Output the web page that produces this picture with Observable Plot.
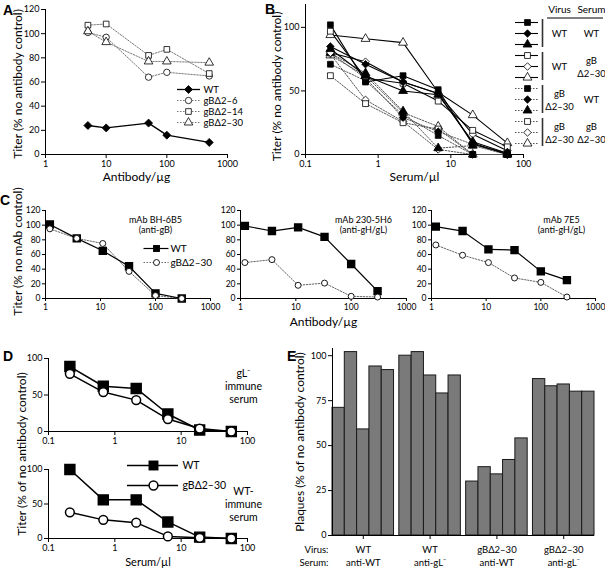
<!DOCTYPE html>
<html>
<head>
<meta charset="utf-8">
<script src="https://cdn.jsdelivr.net/npm/d3@7"></script>
<script src="https://cdn.jsdelivr.net/npm/@observablehq/plot@0.6"></script>
<style>
  html, body { margin: 0; padding: 0; background: #fff; }
  #fig { position: relative; width: 605px; height: 568px; overflow: hidden; background: #fff; }
  #fig svg { position: absolute; }
  .letter { position: absolute; font: bold 14px "Liberation Sans", Arial, sans-serif; line-height: 1; }
</style>
</head>
<body>
<div id="fig"></div>
<script>
// ---------- Panel A ----------
const aDose = [5, 10, 50, 100, 500];
const aSeries = ["WT", "gBΔ2–6", "gBΔ2–14", "gBΔ2–30"];
const aWT = [24, 22, 26, 16, 10];
const aD2_6 = [101, 97, 64, 68, 65];
const aD2_14 = [107, 108, 82, 87, 67];
const aD2_30 = [102, 93, 77, 77, 76];
const aTicksX = [1, 10, 100, 1000];
const aTicksY = [0, 20, 40, 60, 80, 100, 120];

// ---------- Panel B ----------
const bSerum = [0.22, 0.67, 2.2, 6.7, 20, 60];
const bVirusGroups = ["WT", "WT", "gB\nΔ2–30", "gB\nΔ2–30"];
const bSerumGroups = ["WT", "gB\nΔ2–30", "WT", "gB\nΔ2–30"];
const bTiters = [
  [102, 57, 62, 51, 8, 1],
  [85, 71, 57, 48, 9, 0],
  [83, 62, 50, 47, 10, 1],
  [97, 60, 56, 42, 19, 6],
  [80, 73, 57, 48, 16, 3],
  [94, 91, 88, 49, 31, 9],
  [71, 58, 31, 15, 0, 0],
  [80, 60, 29, 18, 8, 0],
  [80, 64, 34, 5, 7, 0],
  [62, 40, 25, 20, 0, 0],
  [79, 43, 26, 4, 0, 0],
  [78, 62, 33, 22, 0, 0]
];
const bTicksX = [0.1, 1, 10, 100];
const bTicksY = [0, 50, 100];

// ---------- Panel C ----------
const cDose = [1.2, 3.7, 11, 33, 100, 300];
const cAntibodies = ["mAb BH-6B5\n(anti-gB)", "mAb 230-5H6\n(anti-gH/gL)", "mAb 7E5\n(anti-gH/gL)"];
const cSeries = ["WT", "gBΔ2–30"];
const cWT = [[101, 82, 65, 44, 7, 0], [99, 92, 97, 84, 47, 10], [98, 92, 67, 66, 37, 25]];
const cGB = [[95, 82, 75, 37, 4, 0], [49, 53, 18, 21, 3, 2], [73, 59, 49, 28, 22, 2]];
const cTicksX = [1, 10, 100, 1000];
const cTicksY = [0, 20, 40, 60, 80, 100, 120];

// ---------- Panel D ----------
const dSerum = [0.21, 0.67, 2.1, 6.3, 19, 57];
const dSeries = ["WT", "gBΔ2–30"];
const dImmune = ["gL⁻\nimmune\nserum", "WT-\nimmune\nserum"];
const dWT = [[89, 62, 59, 24, 2, 0], [100, 56, 56, 24, 2, 0]];
const dGB = [[79, 54, 43, 17, 4, 0], [38, 27, 23, 3, 1, 0]];
const dTicksX = [0.1, 1, 10, 100];
const dTicksY = [0, 50, 100];

// ---------- Panel E ----------
const eVirus = ["WT", "WT", "gBΔ2–30", "gBΔ2–30"];
const eSerum = ["anti-WT", "anti-gL⁻", "anti-WT", "anti-gL⁻"];
const ePlaques = [[71, 102, 59, 94, 92], [100, 102, 89, 79, 89], [30, 38, 34, 42, 54], [87, 83, 84, 80, 80]];
const eTicksY = [0, 25, 50, 75, 100];

// ---------- helpers ----------
const fig = document.getElementById("fig");
const FONT = "Lato, 'Liberation Sans', sans-serif";
function mount(svg, left, top) {
  svg.style.position = "absolute";
  svg.style.left = left + "px";
  svg.style.top = top + "px";
  fig.appendChild(svg);
  return svg;
}
function letter(t, left, top) {
  const d = document.createElement("div");
  d.className = "letter";
  d.textContent = t;
  d.style.left = left + "px";
  d.style.top = top + "px";
  fig.appendChild(d);
}
const baseStyle = (fs) => ({fontFamily: FONT, fontSize: fs + "px", background: "none", overflow: "visible", color: "#000"});
const rows = (xs, ys) => xs.map((x, i) => ({x, y: ys[i]}));
const lineMark = (xs, ys, o) => Plot.line(rows(xs, ys), {x: "x", y: "y", ...o});
const dotMark = (xs, ys, o) => Plot.dot(rows(xs, ys), {x: "x", y: "y", ...o});
const yTitle = (t, dx, dy = 0, fs = 12) => Plot.text([t], {frameAnchor: "left", rotate: -90, dx, dy, textAnchor: "middle", lineAnchor: "middle", fontSize: fs});
const xTitle = (t, dy, fs = 12) => Plot.text([t], {frameAnchor: "bottom", dy, textAnchor: "middle", lineAnchor: "middle", fontSize: fs});
// legend key segment: a horizontal rule around the "key" column
const keyRule = (data, y, l, r, o) => Plot.ruleY(data, {x1: () => "key", x2: () => "key", y, insetLeft: -l, insetRight: -r, ...o});

// ---------- Panel A plot ----------
const aT = [aWT, aD2_6, aD2_14, aD2_30];
const aSym = ["diamond2", "circle", "square", "triangle"];
const aLineStyle = k => k === 0 ? {stroke: "#000", strokeWidth: 1.3} : {stroke: "#777", strokeWidth: 1, strokeDasharray: "1.5,1.5"};
const aDotStyle = k => ({symbol: aSym[k], r: k === 0 ? 3.6 : 3.2, fill: k === 0 ? "#000" : "#fff", stroke: "#000", strokeWidth: 0.8});
mount(Plot.plot({
  width: 240, height: 190, marginLeft: 45, marginRight: 13, marginTop: 9, marginBottom: 36,
  style: baseStyle(9),
  x: {type: "log", domain: [1, 1000], ticks: aTicksX, tickFormat: String, tickSize: 4, tickPadding: 2, label: null},
  y: {domain: [0, 120], ticks: aTicksY, tickSize: 4, tickPadding: 2, label: null},
  marks: [
    Plot.ruleX([1]), Plot.ruleY([0]),
    ...aSeries.map((s, k) => lineMark(aDose, aT[k], aLineStyle(k))).reverse(),
    ...aSeries.map((s, k) => dotMark(aDose, aT[k], aDotStyle(k))),
    yTitle("Titer (% no antibody control)", -27, 2),
    xTitle("Antibody/µg", 23)
  ]
}), 0, 0);

// ---------- Panel B plot ----------
const bSym = ["square", "diamond2", "triangle"];
const bInfo = bTiters.map((v, i) => {
  const g = Math.floor(i / 3);
  return {i, g, sym: bSym[i % 3], filled: bSerumGroups[g] === "WT", dotted: bVirusGroups[g] !== "WT"};
});
const bLineStyle = d => d.dotted ? {stroke: "#555", strokeWidth: 1, strokeDasharray: "1.5,1.5"} : {stroke: "#000", strokeWidth: 1.1};
const bDotStyle = d => ({symbol: d.sym, r: d.sym === "diamond2" ? 3.4 : 3.3, fill: d.filled ? "#000" : "#fff", stroke: "#000", strokeWidth: 0.8});
mount(Plot.plot({
  width: 270, height: 190, marginLeft: 45, marginRight: 7, marginTop: 4, marginBottom: 36,
  style: baseStyle(9),
  x: {type: "log", domain: [0.1, 100], ticks: bTicksX, tickFormat: String, tickSize: 4, tickPadding: 2, label: null},
  y: {domain: [0, 118], ticks: bTicksY, tickSize: 4, tickPadding: 2, label: null},
  marks: [
    Plot.ruleX([0.1]), Plot.ruleY([0]),
    ...bInfo.filter(d => d.dotted).map(d => lineMark(bSerum, bTiters[d.i], bLineStyle(d))),
    ...bInfo.filter(d => !d.dotted).map(d => lineMark(bSerum, bTiters[d.i], bLineStyle(d))),
    ...bInfo.slice().reverse().map(d => dotMark(bSerum, bTiters[d.i], bDotStyle(d))),
    yTitle("Titer (% no antibody control)", -28, 7),
    xTitle("Serum/µl", 23)
  ]
}), 260, 0);

// ---------- Panel C plots ----------
const cLeft = [0, 195, 386], cWidth = [220, 220, 219], cMR = [10, 9, 10], cDx = [-55, -43, -34];
cAntibodies.forEach((ab, j) => {
  mount(Plot.plot({
    width: cWidth[j], height: 130, marginLeft: 45, marginRight: cMR[j], marginTop: 15, marginBottom: 27,
    style: baseStyle(8.5),
    x: {type: "log", domain: [1, 1000], ticks: cTicksX, tickFormat: String, tickSize: 3, tickPadding: 2, label: null},
    y: {domain: [0, 120], ticks: cTicksY, tickSize: 3, tickPadding: 2, label: null},
    marks: [
      Plot.ruleX([1]), Plot.ruleY([0]),
      lineMark(cDose, cGB[j], {stroke: "#666", strokeWidth: 1, strokeDasharray: "1.5,1.5"}),
      lineMark(cDose, cWT[j], {stroke: "#000", strokeWidth: 1.2}),
      dotMark(cDose, cWT[j], {symbol: "square", r: 3.9, fill: "#000", stroke: "#000"}),
      dotMark(cDose, cGB[j], {symbol: "circle", r: 3, fill: "#fff", stroke: "#000", strokeWidth: 0.9}),
      Plot.text([ab], {frameAnchor: "top-right", dx: cDx[j], dy: 14, textAnchor: "middle", lineAnchor: "middle", lineHeight: 1.15, fontSize: 9}),
      j === 0 ? yTitle("Titer (% no mAb control)", -27, -3) : null,
      j === 1 ? xTitle("Antibody/µg", 24) : null
    ]
  }), cLeft[j], 195);
});

// ---------- Panel D plots ----------
const dTop = [345, 455], dH = [105, 113], dMT = [13, 14], dMB = [19, 30], dTextDy = [-9.5, 0];
dImmune.forEach((lab, j) => {
  mount(Plot.plot({
    width: 260, height: dH[j], marginLeft: 48, marginRight: 13, marginTop: dMT[j], marginBottom: dMB[j],
    style: baseStyle(9),
    x: {type: "log", domain: [0.1, 100], ticks: dTicksX, tickFormat: String, tickSize: 4, tickPadding: 2, label: null},
    y: {domain: [0, 100], ticks: dTicksY, tickSize: 4, tickPadding: 2, label: null},
    marks: [
      Plot.ruleX([0.1]), Plot.ruleY([0]),
      lineMark(dSerum, dWT[j], {stroke: "#000", strokeWidth: 1.5}),
      lineMark(dSerum, dGB[j], {stroke: "#000", strokeWidth: 1.5}),
      dotMark(dSerum, dWT[j], {symbol: "square", r: 5.6, fill: "#000", stroke: "#000"}),
      dotMark(dSerum, dGB[j], {symbol: "circle", r: 4.4, fill: "#fff", stroke: "#000", strokeWidth: 1.5}),
      Plot.text([lab], {frameAnchor: "right", dx: -4, dy: dTextDy[j], textAnchor: "middle", lineAnchor: "middle", lineHeight: 1.25, fontSize: 10.5}),
      j === 1 ? yTitle("Titer (% of no antibody control)", -26, -50) : null,
      j === 1 ? xTitle("Serum/µl", 24, 11) : null
    ]
  }), 0, dTop[j]);
});

// ---------- Panel E plot ----------
const eGap = 0.43;
const eBars = ePlaques.flatMap((vals, g) => vals.map((v, i) => ({g, i, v, x1: g * (5 + eGap) + i, x2: g * (5 + eGap) + i + 1})));
const eGroups = eVirus.map((v, g) => ({c: g * (5 + eGap) + 2.5, label: v + "\n" + eSerum[g]}));
mount(Plot.plot({
  width: 320, height: 228, marginLeft: 47, marginRight: 11, marginTop: 8, marginBottom: 33,
  style: baseStyle(9),
  x: {domain: [0, 4 * 5 + 3 * eGap]},
  y: {domain: [0, 104], ticks: eTicksY, tickSize: 4, tickPadding: 2, label: null},
  marks: [
    Plot.rectY(eBars, {x1: "x1", x2: "x2", y: "v", fill: "#7a7a7a", stroke: "#1a1a1a", strokeWidth: 1}),
    Plot.ruleX([0]), Plot.ruleY([0]),
    Plot.axisX({ticks: eGroups.map(d => d.c), tickFormat: () => "", tickSize: 4, label: null}),
    Plot.text(eGroups, {x: "c", text: "label", frameAnchor: "bottom", dy: 9, textAnchor: "middle", lineAnchor: "top", lineHeight: 1.3, fontSize: 9.5}),
    Plot.text(["Virus:\nSerum:"], {frameAnchor: "bottom-left", dx: -4, dy: 9, textAnchor: "end", lineAnchor: "top", lineHeight: 1.3, fontSize: 9.5}),
    yTitle("Plaques (% of no antibody control)", -32)
  ]
}), 285, 340);

// ---------- Legends ----------
// A legend
mount(Plot.plot({
  width: 75, height: 50, margin: 0, style: baseStyle(9.5),
  x: {type: "point", domain: ["key", "label"], range: [18, 33], padding: 0, axis: null},
  y: {type: "point", domain: aSeries, range: [9, 42], padding: 0, axis: null},
  marks: [
    ...aSeries.map((s, k) => keyRule([s], d => d, 11, 12, aLineStyle(k))),
    ...aSeries.map((s, k) => Plot.dot([s], {x: () => "key", y: d => d, ...aDotStyle(k)})),
    Plot.text(aSeries, {x: () => "label", y: d => d, textAnchor: "start"})
  ]
}), 170, 80);

// B legend
mount(Plot.plot({
  width: 95, height: 160, margin: 0, style: baseStyle(9.5),
  x: {type: "point", domain: ["key", "virus", "serum"], range: [17, 81], padding: 0, axis: null},
  y: {type: "point", domain: d3.range(bTiters.length), range: [18, 146], padding: 0, axis: null},
  marks: [
    Plot.text(["Virus", "Serum"], {x: ["virus", "serum"], y: [0, 0], dy: -13, fontSize: 10}),
    Plot.ruleY([0], {x1: () => "virus", x2: () => "serum", y: d => d, dy: -4.5, insetLeft: -12, insetRight: -12, stroke: "#000", strokeWidth: 1.2}),
    ...bInfo.map(d => keyRule([d], "i", 12, 11, bLineStyle(d))),
    ...bInfo.map(d => Plot.dot([d], {x: () => "key", y: "i", ...bDotStyle(d)})),
    Plot.ruleX(d3.range(4), {x: () => "key", y1: g => 3 * g, y2: g => 3 * g + 2, dx: 15, insetTop: -3, insetBottom: -3, stroke: "#333", strokeWidth: 1.6}),
    Plot.text(d3.range(4), {x: () => "virus", y: g => 3 * g + 1, text: g => bVirusGroups[g], lineHeight: 1.3}),
    Plot.text(d3.range(4), {x: () => "serum", y: g => 3 * g + 1, text: g => bSerumGroups[g], lineHeight: 1.3})
  ]
}), 510, 0);

// C legend
mount(Plot.plot({
  width: 90, height: 32, margin: 0, style: baseStyle(10),
  x: {type: "point", domain: ["key", "label"], range: [25.5, 40], padding: 0, axis: null},
  y: {type: "point", domain: cSeries, range: [10, 24], padding: 0, axis: null},
  marks: [
    keyRule([cSeries[0]], d => d, 12.5, 12.5, {stroke: "#000", strokeWidth: 1.2}),
    keyRule([cSeries[1]], d => d, 12.5, 12.5, {stroke: "#666", strokeWidth: 1, strokeDasharray: "1.5,1.5"}),
    Plot.dot([cSeries[0]], {x: () => "key", y: d => d, symbol: "square", r: 3.9, fill: "#000"}),
    Plot.dot([cSeries[1]], {x: () => "key", y: d => d, symbol: "circle", r: 3, fill: "#fff", stroke: "#000", strokeWidth: 0.9}),
    Plot.text(cSeries, {x: () => "label", y: d => d, textAnchor: "start"})
  ]
}), 130, 238);

// D legend
mount(Plot.plot({
  width: 120, height: 42, margin: 0, style: baseStyle(10.5),
  x: {type: "point", domain: ["key", "label"], range: [38, 67], padding: 0, axis: null},
  y: {type: "point", domain: dSeries, range: [13, 33], padding: 0, axis: null},
  marks: [
    keyRule(dSeries, d => d, 26, 25, {stroke: "#000", strokeWidth: 1.5}),
    Plot.dot([dSeries[0]], {x: () => "key", y: d => d, symbol: "square", r: 5.6, fill: "#000"}),
    Plot.dot([dSeries[1]], {x: () => "key", y: d => d, symbol: "circle", r: 4.4, fill: "#fff", stroke: "#000", strokeWidth: 1.5}),
    Plot.text(dSeries, {x: () => "label", y: d => d, textAnchor: "start"})
  ]
}), 115, 452);

// ---------- Panel letters ----------
letter("A", 3, 3);
letter("B", 265, 2);
letter("C", 0, 193);
letter("D", 3, 349);
letter("E", 287, 349);
</script>
</body>
</html>
